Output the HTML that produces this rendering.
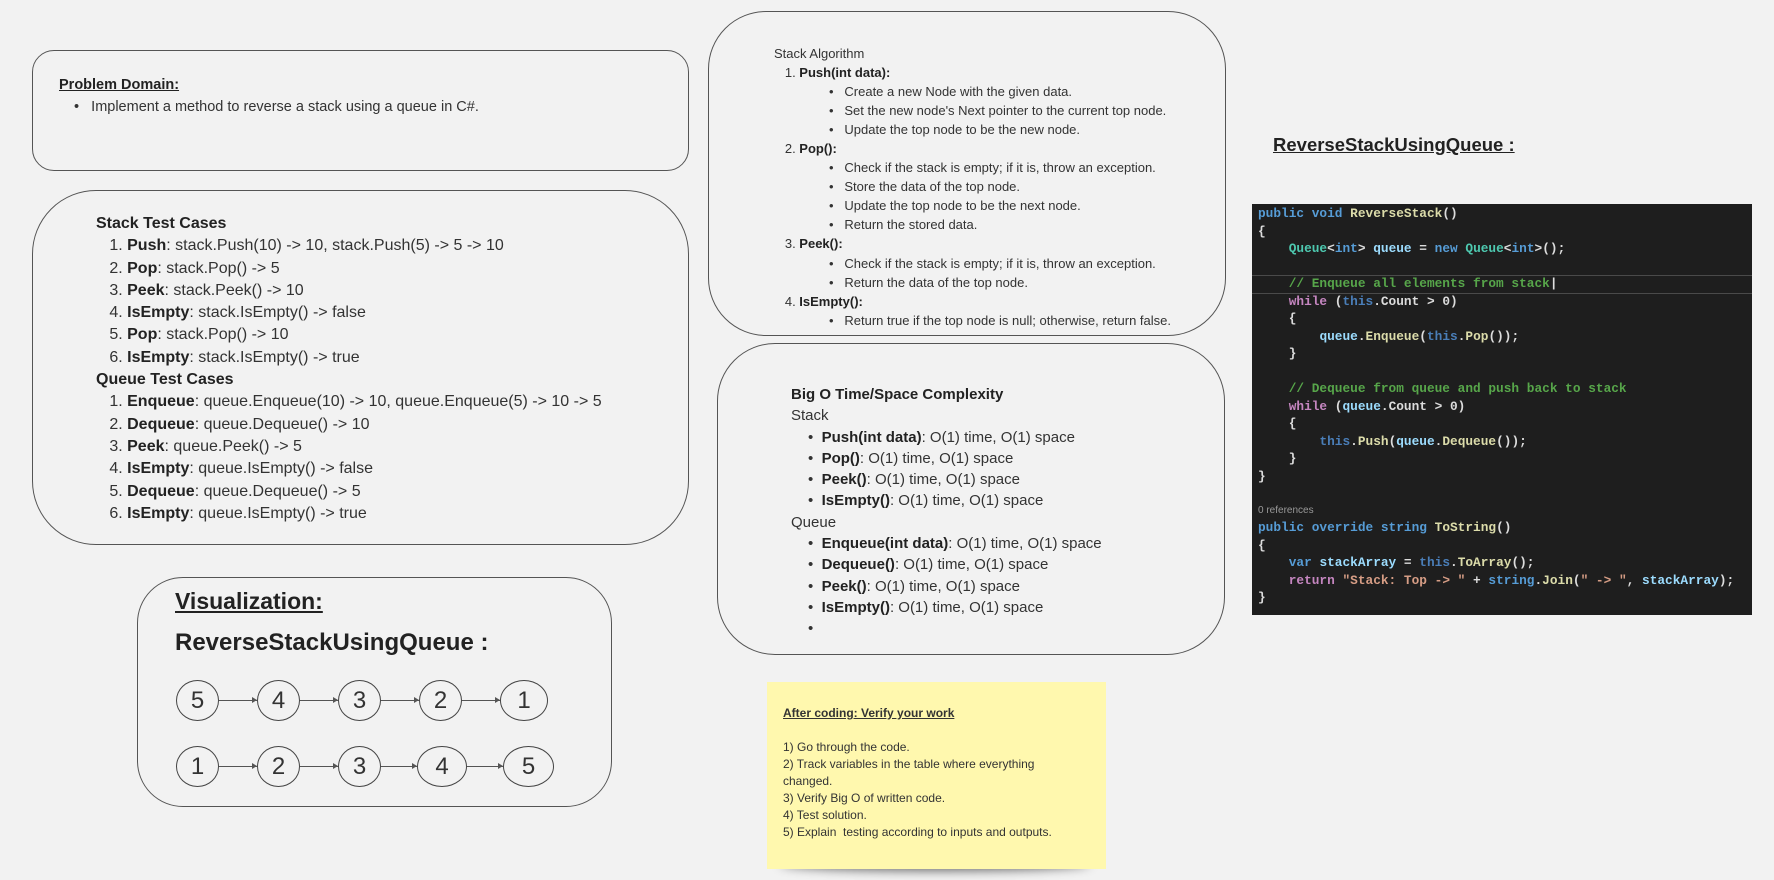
<!DOCTYPE html>
<html><head><meta charset="utf-8"><style>
*{margin:0;padding:0;box-sizing:border-box}
body{width:1774px;height:880px;background:#f2f2f2;position:relative;overflow:hidden;font-family:"Liberation Sans",sans-serif;color:#333}
.box{position:absolute;border:1.3px solid #555}
.t{position:absolute;white-space:nowrap}
b{color:#222}
.blk div{white-space:nowrap}
.code{position:absolute;left:1252px;top:204px;width:500px;height:411px;background:#1e1e1e;font-family:"Liberation Mono",monospace;font-size:12.8px;font-weight:bold;color:#dcdcdc}
.code div{position:absolute;left:6px;white-space:pre;line-height:17.5px}
.k{color:#569cd6}.ty{color:#4ec9b0}.m{color:#dcdcaa}.v{color:#9cdcfe}.c{color:#57a64a}.p{color:#c586c0}.s{color:#d69d85}.th{color:#4a7eb8}
.circ{position:absolute;width:43px;height:41px;border:1.2px solid #444;border-radius:50%;font-size:24px;text-align:center;line-height:39px;color:#333}
.ar{position:absolute;height:1px;background:#555}
.ar:after{content:"";position:absolute;right:0;top:-3px;border-left:5px solid #555;border-top:3.5px solid transparent;border-bottom:3.5px solid transparent}
</style></head><body>

<!-- Problem domain -->
<div class="box" style="left:32px;top:50px;width:657px;height:121px;border-radius:22px"></div>
<div class="t" style="left:59px;top:77px;font-size:14.5px;font-weight:bold;text-decoration:underline;color:#222">Problem Domain: </div>
<div class="t" style="left:74px;top:99px;font-size:14.5px">•&nbsp;&nbsp;&nbsp;Implement a method to reverse a stack using a queue in C#.</div>

<!-- Test cases -->
<div class="box" style="left:32px;top:190px;width:657px;height:355px;border-radius:64px"></div>
<div class="blk t" style="left:96px;top:213px;font-size:16px;line-height:22.3px">
<div><b>Stack Test Cases</b></div>
<div>&nbsp;&nbsp;&nbsp;1. <b>Push</b>: stack.Push(10) -&gt; 10, stack.Push(5) -&gt; 5 -&gt; 10</div>
<div>&nbsp;&nbsp;&nbsp;2. <b>Pop</b>: stack.Pop() -&gt; 5</div>
<div>&nbsp;&nbsp;&nbsp;3. <b>Peek</b>: stack.Peek() -&gt; 10</div>
<div>&nbsp;&nbsp;&nbsp;4. <b>IsEmpty</b>: stack.IsEmpty() -&gt; false</div>
<div>&nbsp;&nbsp;&nbsp;5. <b>Pop</b>: stack.Pop() -&gt; 10</div>
<div>&nbsp;&nbsp;&nbsp;6. <b>IsEmpty</b>: stack.IsEmpty() -&gt; true</div>
<div><b>Queue Test Cases</b></div>
<div>&nbsp;&nbsp;&nbsp;1. <b>Enqueue</b>: queue.Enqueue(10) -&gt; 10, queue.Enqueue(5) -&gt; 10 -&gt; 5</div>
<div>&nbsp;&nbsp;&nbsp;2. <b>Dequeue</b>: queue.Dequeue() -&gt; 10</div>
<div>&nbsp;&nbsp;&nbsp;3. <b>Peek</b>: queue.Peek() -&gt; 5</div>
<div>&nbsp;&nbsp;&nbsp;4. <b>IsEmpty</b>: queue.IsEmpty() -&gt; false</div>
<div>&nbsp;&nbsp;&nbsp;5. <b>Dequeue</b>: queue.Dequeue() -&gt; 5</div>
<div>&nbsp;&nbsp;&nbsp;6. <b>IsEmpty</b>: queue.IsEmpty() -&gt; true</div>
</div>

<!-- Visualization -->
<div class="box" style="left:137px;top:577px;width:475px;height:230px;border-radius:46px"></div>
<div class="t" style="left:175px;top:588px;font-size:23px;font-weight:bold;text-decoration:underline;color:#222">Visualization:</div>
<div class="t" style="left:175px;top:629px;font-size:24px;font-weight:bold;color:#222">ReverseStackUsingQueue :</div>
<div class="circ" style="left:176px;top:680px">5</div>
<div class="circ" style="left:257px;top:680px">4</div>
<div class="circ" style="left:338px;top:680px">3</div>
<div class="circ" style="left:419px;top:680px">2</div>
<div class="circ" style="left:500px;top:680px;width:48px">1</div>
<div class="ar" style="left:219px;top:700px;width:38px"></div>
<div class="ar" style="left:300px;top:700px;width:38px"></div>
<div class="ar" style="left:381px;top:700px;width:38px"></div>
<div class="ar" style="left:462px;top:700px;width:38px"></div>
<div class="circ" style="left:176px;top:746px">1</div>
<div class="circ" style="left:257px;top:746px">2</div>
<div class="circ" style="left:338px;top:746px">3</div>
<div class="circ" style="left:417px;top:746px;width:50px">4</div>
<div class="circ" style="left:503px;top:746px;width:51px">5</div>
<div class="ar" style="left:219px;top:766px;width:38px"></div>
<div class="ar" style="left:300px;top:766px;width:38px"></div>
<div class="ar" style="left:381px;top:766px;width:36px"></div>
<div class="ar" style="left:467px;top:766px;width:36px"></div>

<!-- Stack algorithm -->
<div class="box" style="left:708px;top:11px;width:518px;height:325px;border-radius:58px"></div>
<div class="blk t" style="left:774px;top:44px;font-size:13px;line-height:19.05px">
<div>Stack Algorithm</div>
<div>&nbsp;&nbsp;&nbsp;1. <b>Push(int data):</b></div>
<div style="padding-left:55px">•&nbsp;&nbsp;&nbsp;Create a new Node with the given data.</div>
<div style="padding-left:55px">•&nbsp;&nbsp;&nbsp;Set the new node's Next pointer to the current top node.</div>
<div style="padding-left:55px">•&nbsp;&nbsp;&nbsp;Update the top node to be the new node.</div>
<div>&nbsp;&nbsp;&nbsp;2. <b>Pop():</b></div>
<div style="padding-left:55px">•&nbsp;&nbsp;&nbsp;Check if the stack is empty; if it is, throw an exception.</div>
<div style="padding-left:55px">•&nbsp;&nbsp;&nbsp;Store the data of the top node.</div>
<div style="padding-left:55px">•&nbsp;&nbsp;&nbsp;Update the top node to be the next node.</div>
<div style="padding-left:55px">•&nbsp;&nbsp;&nbsp;Return the stored data.</div>
<div>&nbsp;&nbsp;&nbsp;3. <b>Peek():</b></div>
<div style="padding-left:55px">•&nbsp;&nbsp;&nbsp;Check if the stack is empty; if it is, throw an exception.</div>
<div style="padding-left:55px">•&nbsp;&nbsp;&nbsp;Return the data of the top node.</div>
<div>&nbsp;&nbsp;&nbsp;4. <b>IsEmpty():</b></div>
<div style="padding-left:55px">•&nbsp;&nbsp;&nbsp;Return true if the top node is null; otherwise, return false.</div>
</div>

<!-- Big O -->
<div class="box" style="left:717px;top:343px;width:508px;height:312px;border-radius:58px"></div>
<div class="blk t" style="left:791px;top:384px;font-size:15px;line-height:21.3px">
<div><b>Big O Time/Space Complexity</b></div>
<div>Stack</div>
<div style="padding-left:17px">•&nbsp;&nbsp;<b>Push(int data)</b>: O(1) time, O(1) space</div>
<div style="padding-left:17px">•&nbsp;&nbsp;<b>Pop()</b>: O(1) time, O(1) space</div>
<div style="padding-left:17px">•&nbsp;&nbsp;<b>Peek()</b>: O(1) time, O(1) space</div>
<div style="padding-left:17px">•&nbsp;&nbsp;<b>IsEmpty()</b>: O(1) time, O(1) space</div>
<div>Queue</div>
<div style="padding-left:17px">•&nbsp;&nbsp;<b>Enqueue(int data)</b>: O(1) time, O(1) space</div>
<div style="padding-left:17px">•&nbsp;&nbsp;<b>Dequeue()</b>: O(1) time, O(1) space</div>
<div style="padding-left:17px">•&nbsp;&nbsp;<b>Peek()</b>: O(1) time, O(1) space</div>
<div style="padding-left:17px">•&nbsp;&nbsp;<b>IsEmpty()</b>: O(1) time, O(1) space</div>
<div style="padding-left:17px">•</div>
</div>

<!-- Sticky -->
<div style="position:absolute;left:780px;top:857px;width:310px;height:14px;border-radius:50%;background:rgba(0,0,0,0.55);filter:blur(5px)"></div>
<div style="position:absolute;left:767px;top:682px;width:339px;height:187px;background:#fff8ae"></div>
<div class="blk t" style="left:783px;top:705px;font-size:12px;line-height:17px;color:#333">
<div style="font-weight:bold;text-decoration:underline">After coding: Verify your work</div>
<div>&nbsp;</div>
<div>1) Go through the code.</div>
<div>2) Track variables in the table where everything</div>
<div>changed.</div>
<div>3) Verify Big O of written code.</div>
<div>4) Test solution.</div>
<div>5) Explain&nbsp; testing according to inputs and outputs.</div>
</div>

<!-- Code title -->
<div class="t" style="left:1273px;top:134px;font-size:18.5px;font-weight:bold;text-decoration:underline;color:#222">ReverseStackUsingQueue :</div>

<!-- Code -->
<div class="code">
<div style="left:0;top:71px;width:500px;height:19px;border-top:1px solid #4a4a4a;border-bottom:1px solid #4a4a4a;padding:0"></div>
<div style="top:1px"><span class="k">public void </span><span class="m">ReverseStack</span>()</div>
<div style="top:18.5px">{</div>
<div style="top:36px">    <span class="ty">Queue</span>&lt;<span class="k">int</span>&gt; <span class="v">queue</span> = <span class="k">new </span><span class="ty">Queue</span>&lt;<span class="k">int</span>&gt;();</div>
<div style="top:71px">    <span class="c">// Enqueue all elements from stack</span><span style="color:#ddd">|</span></div>
<div style="top:88.5px">    <span class="p">while</span> (<span class="th">this</span>.Count &gt; 0)</div>
<div style="top:106px">    {</div>
<div style="top:123.5px">        <span class="v">queue</span>.<span class="m">Enqueue</span>(<span class="th">this</span>.<span class="m">Pop</span>());</div>
<div style="top:141px">    }</div>
<div style="top:176px">    <span class="c">// Dequeue from queue and push back to stack</span></div>
<div style="top:193.5px">    <span class="p">while</span> (<span class="v">queue</span>.Count &gt; 0)</div>
<div style="top:211px">    {</div>
<div style="top:228.5px">        <span class="th">this</span>.<span class="m">Push</span>(<span class="v">queue</span>.<span class="m">Dequeue</span>());</div>
<div style="top:246px">    }</div>
<div style="top:263.5px">}</div>
<div style="top:298px;font-family:'Liberation Sans',sans-serif;font-weight:normal;font-size:10px;color:#999">0 references</div>
<div style="top:315px"><span class="k">public override string </span><span class="m">ToString</span>()</div>
<div style="top:332.5px">{</div>
<div style="top:350px">    <span class="k">var </span><span class="v">stackArray</span> = <span class="th">this</span>.<span class="m">ToArray</span>();</div>
<div style="top:367.5px">    <span class="p">return </span><span class="s">"Stack: Top -&gt; "</span> + <span class="k">string</span>.<span class="m">Join</span>(<span class="s">" -&gt; "</span>, <span class="v">stackArray</span>);</div>
<div style="top:385px">}</div>
</div>

</body></html>
